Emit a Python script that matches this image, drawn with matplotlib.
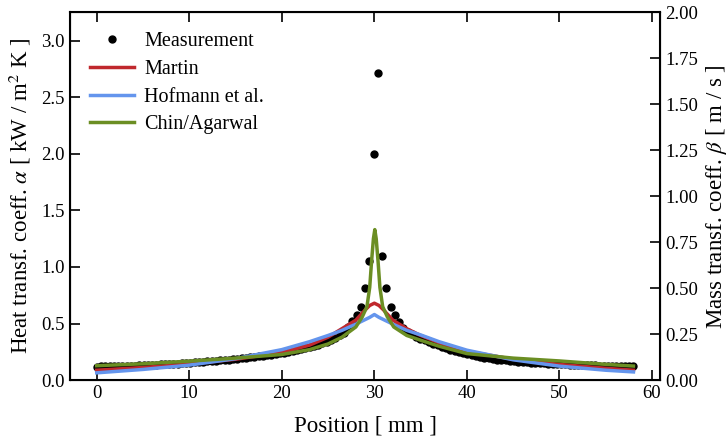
import numpy as np
import matplotlib
matplotlib.use("Agg")
import matplotlib.pyplot as plt

plt.rcParams['font.family'] = ['Liberation Serif', 'DejaVu Serif']
plt.rcParams['mathtext.fontset'] = 'stix'
plt.rcParams['font.size'] = 13.5

# measurement positions [mm] and heat transfer coefficient [kW/m2K]
pos_meas = np.linspace(0, 58, 127)
alpha_meas = [
    0.120, 0.121, 0.122, 0.123, 0.124, 0.125, 0.126, 0.127, 0.128, 0.129,
    0.131, 0.132, 0.134, 0.135, 0.137, 0.139, 0.141, 0.143, 0.145, 0.147,
    0.150, 0.152, 0.155, 0.157, 0.160, 0.163, 0.166, 0.169, 0.172, 0.175,
    0.178, 0.182, 0.185, 0.189, 0.193, 0.197, 0.201, 0.205, 0.210, 0.215,
    0.220, 0.225, 0.231, 0.237, 0.243, 0.250, 0.257, 0.265, 0.273, 0.282,
    0.292, 0.302, 0.314, 0.327, 0.341, 0.357, 0.375, 0.396, 0.420, 0.470,
    0.520, 0.574, 0.647, 0.818, 1.050, 2.000, 2.710, 1.094, 0.815, 0.647,
    0.574, 0.515, 0.465, 0.430, 0.405, 0.385, 0.368, 0.353, 0.338, 0.323,
    0.309, 0.296, 0.283, 0.271, 0.259, 0.248, 0.238, 0.228, 0.219, 0.211,
    0.204, 0.198, 0.192, 0.187, 0.182, 0.178, 0.174, 0.170, 0.167, 0.164,
    0.161, 0.158, 0.155, 0.153, 0.151, 0.149, 0.147, 0.145, 0.143, 0.141,
    0.140, 0.138, 0.137, 0.135, 0.134, 0.133, 0.131, 0.130, 0.129, 0.128,
    0.127, 0.126, 0.125, 0.124, 0.123, 0.122, 0.121,
]

# model curves
pos_mod = [0, 5, 10, 15, 20, 23, 25, 26.5, 28, 29, 29.5, 30, 30.5, 31, 32,
           33.5, 35, 37, 40, 45, 50, 55, 58]
alpha_martin = [0.088, 0.112, 0.143, 0.185, 0.245, 0.310, 0.380, 0.455, 0.530,
                0.620, 0.660, 0.680, 0.660, 0.620, 0.530, 0.455, 0.395, 0.330,
                0.256, 0.185, 0.139, 0.105, 0.088]
alpha_hofmann = [0.065, 0.095, 0.133, 0.190, 0.270, 0.340, 0.395, 0.440, 0.495,
                 0.535, 0.555, 0.580, 0.555, 0.535, 0.495, 0.440, 0.400, 0.340,
                 0.265, 0.180, 0.124, 0.088, 0.073]

pos_chin = [0, 5, 10, 15, 20, 23, 25, 26.5, 28, 28.7, 29.2, 29.5, 29.7, 29.9,
            30.05, 30.2, 30.4, 30.6, 30.9, 31.4, 32.1, 33.5, 35, 37, 40, 45,
            50, 55, 58]
alpha_chin = [0.128, 0.145, 0.168, 0.195, 0.227, 0.270, 0.320, 0.380, 0.470,
              0.560, 0.650, 0.820, 1.050, 1.250, 1.330, 1.250, 1.050, 0.820,
              0.650, 0.560, 0.470, 0.395, 0.353, 0.300, 0.235, 0.195, 0.170,
              0.140, 0.125]


fig = plt.figure(figsize=(7.28, 4.36), dpi=100)
ax = fig.add_axes([0.096, 0.128, 0.811, 0.844])

ax.plot(pos_meas, alpha_meas, 'o', color='black', ms=5, label='Measurement')
ax.plot(pos_mod, alpha_martin, color='#c0282d', lw=2.5, label='Martin')
ax.plot(pos_mod, alpha_hofmann, color='#6495ed', lw=2.5, label='Hofmann et al.')
ax.plot(pos_chin, alpha_chin, color='#6b8e23', lw=2.5, label='Chin/Agarwal')

ax.set_ylim(0, 3.25)
ax.set_yticks([0, 0.5, 1.0, 1.5, 2.0, 2.5, 3.0])
ax.set_xticks([0, 10, 20, 30, 40, 50, 60])
ax.set_xlabel('Position [ mm ]', fontsize=16.5, labelpad=10)
ax.set_ylabel(r'Heat transf. coeff. $\alpha$ [ kW / m$^2$ K ]', fontsize=16.5,
              labelpad=6)
ax.tick_params(direction='in', length=7, width=1.2, top=True, right=False)
for s in ax.spines.values():
    s.set_linewidth(1.5)

ax2 = ax.twinx()
ax2.set_ylim(0, 2.0)
ax2.set_yticks(np.arange(0, 2.01, 0.25))
ax2.set_yticklabels(['%.2f' % v for v in np.arange(0, 2.01, 0.25)])
ax2.set_ylabel(r'Mass transf. coeff. $\beta$ [ m / s ]', fontsize=16.5)
ax2.tick_params(direction='in', length=7, width=1.2)

ax.legend(loc='upper left', frameon=False, handlelength=2.2, handletextpad=0.5,
          borderaxespad=0.6, labelspacing=0.42, fontsize=14.5)

fig.savefig('out.png', dpi=100)
